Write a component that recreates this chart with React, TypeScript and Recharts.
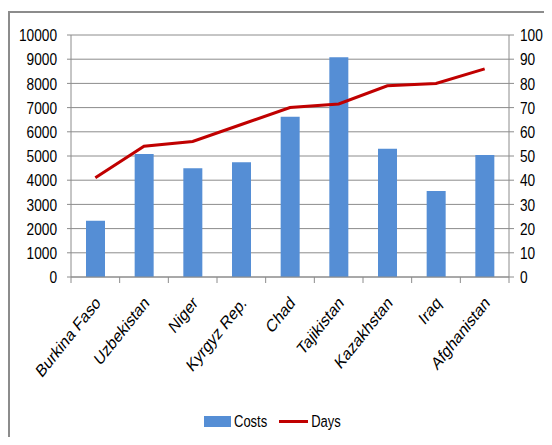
import { Bar, CartesianGrid, ComposedChart, Legend, Line, XAxis, YAxis } from 'recharts'

const countries = [
  'Burkina Faso',
  'Uzbekistan',
  'Niger',
  'Kyrgyz Rep.',
  'Chad',
  'Tajikistan',
  'Kazakhstan',
  'Iraq',
  'Afghanistan',
]
const costs = [2320, 5080, 4490, 4740, 6620, 9080, 5300, 3550, 5040]
const days = [41, 54, 56, 63, 70, 71.5, 79, 80, 86]
const costTicks = [0, 1000, 2000, 3000, 4000, 5000, 6000, 7000, 8000, 9000, 10000]
const dayTicks = [0, 10, 20, 30, 40, 50, 60, 70, 80, 90, 100]

const data = countries.map((name, i) => ({ name, costs: costs[i], days: days[i] }))

const FONT = '"Liberation Sans", Arial, sans-serif'
const GRID = '#8c8c8c'
const BLUE = '#558ed5'
const RED = '#c00000'
// the reference looks stretched vertically, so text is drawn taller than wide
const STRETCH = 1.25

const CHART_W = 542
const CHART_H = 424
const LEFT_W = 61
const RIGHT_W = 40
const MARGIN_RIGHT = 3
const PLOT_W = CHART_W - LEFT_W - RIGHT_W - MARGIN_RIGHT
const BAND = PLOT_W / countries.length

function CountryTick(props: any) {
  const { x, y, payload, index } = props
  const left = x - BAND / 2
  return (
    <g>
      <line x1={left} y1={y} x2={left} y2={y + 6} stroke={GRID} />
      {index === countries.length - 1 && (
        <line x1={left + BAND} y1={y} x2={left + BAND} y2={y + 6} stroke={GRID} />
      )}
      <text
        transform={`translate(${x + 6} ${y + 27}) scale(1 ${STRETCH}) rotate(-45)`}
        textAnchor="end"
        fontSize={14.3}
        fontFamily={FONT}
        fill="#000"
      >
        {payload.value}
      </text>
    </g>
  )
}

function ValueTick(props: any) {
  const { x, y, payload, textAnchor } = props
  return (
    <text
      transform={`translate(${x} ${y}) scale(1 ${STRETCH})`}
      dy="0.36em"
      textAnchor={textAnchor}
      fontSize={13.7}
      fontFamily={FONT}
      fill="#000"
    >
      {payload.value}
    </text>
  )
}

function LegendBox() {
  return (
    <div
      style={{
        display: 'flex',
        alignItems: 'center',
        fontFamily: FONT,
        fontSize: 13,
        color: '#000',
      }}
    >
      <span style={{ width: 27, height: 11, background: BLUE, display: 'inline-block', marginRight: 3 }} />
      <span style={{ marginRight: 12, display: 'inline-block', transform: `scaleY(${STRETCH})` }}>Costs</span>
      <span style={{ width: 29, height: 3, background: RED, display: 'inline-block', marginRight: 3 }} />
      <span style={{ display: 'inline-block', transform: `scaleY(${STRETCH})` }}>Days</span>
    </div>
  )
}

export default function App() {
  return (
    <div
      style={{
        marginTop: 3,
        width: 534,
        height: CHART_H,
        borderTop: `2px solid ${GRID}`,
        borderLeft: `2px solid ${GRID}`,
        background: '#fff',
      }}
    >
      <ComposedChart
        width={CHART_W}
        height={CHART_H}
        data={data}
        margin={{ top: 22, right: MARGIN_RIGHT, bottom: 0, left: 0 }}
      >
        <CartesianGrid vertical={false} stroke={GRID} yAxisId="left" />
        <XAxis
          dataKey="name"
          interval={0}
          height={145}
          axisLine={{ stroke: GRID }}
          tickLine={false}
          tick={<CountryTick />}
          tickSize={0}
          tickMargin={0}
        />
        <YAxis
          yAxisId="left"
          width={LEFT_W}
          domain={[0, 10000]}
          ticks={costTicks}
          interval={0}
          axisLine={{ stroke: GRID }}
          tickLine={{ stroke: GRID }}
          tickSize={4}
          tickMargin={10}
          tick={<ValueTick />}
        />
        <YAxis
          yAxisId="right"
          orientation="right"
          width={RIGHT_W}
          domain={[0, 100]}
          ticks={dayTicks}
          interval={0}
          axisLine={{ stroke: GRID }}
          tickLine={{ stroke: GRID }}
          tickSize={5}
          tickMargin={6}
          tick={<ValueTick />}
        />
        <Bar yAxisId="left" dataKey="costs" name="Costs" fill={BLUE} barSize={19} isAnimationActive={false} />
        <Line
          yAxisId="right"
          dataKey="days"
          name="Days"
          type="linear"
          stroke={RED}
          strokeWidth={3}
          dot={false}
          activeDot={false}
          isAnimationActive={false}
        />
        <Legend
          content={<LegendBox />}
          wrapperStyle={{ position: 'absolute', top: 401, left: 194, width: 160, bottom: 'auto' }}
        />
      </ComposedChart>
    </div>
  )
}
